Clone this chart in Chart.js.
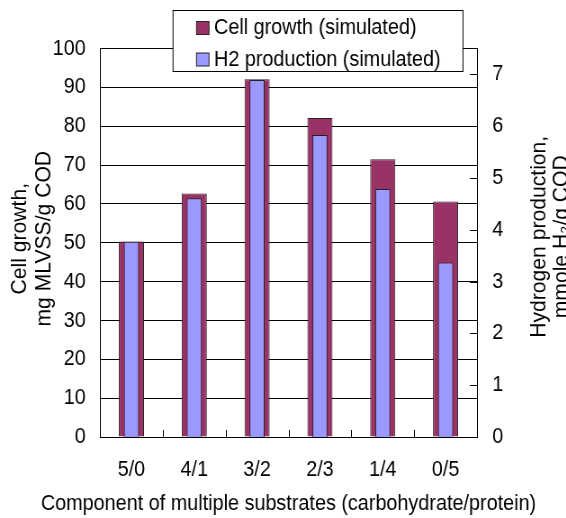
<!DOCTYPE html>
<html><head><meta charset="utf-8">
<script src="https://cdn.jsdelivr.net/npm/chart.js@4/dist/chart.umd.min.js"></script>
<style>
html,body{margin:0;padding:0;overflow:hidden;background:#fff;width:566px;height:518px}
#wrap{position:absolute;left:0;top:0;width:660px;height:518px;transform:scaleX(0.9);transform-origin:0 0}
</style></head><body>
<div id="wrap"><canvas id="c" width="660" height="518"></canvas></div>
<script>
// ---- data ----
const categories = ['5/0', '4/1', '3/2', '2/3', '1/4', '0/5'];
const cellGrowth = [50.3, 62.7, 92.1, 82.1, 71.5, 60.6];      // mg MLVSS/g COD (left axis)
const h2Production = [3.77, 4.61, 6.89, 5.83, 4.79, 3.37];    // mmole H2/g COD (right axis)
const seriesNames = ['Cell growth (simulated)', 'H2 production (simulated)'];
const leftTitle = ['Cell growth,', 'mg MLVSS/g COD'];
const rightTitle = ['Hydrogen production,', 'mmole H\u2082/g COD'];
const xTitle = 'Component of multiple substrates (carbohydrate/protein)';
const leftRange = [0, 100, 10];
const rightRange = [0, 7.5, 1];

// ---- look ----
const SX = 0.9;            // horizontal condensation of the page
const ROT = 0.96;          // condensation of rotated titles along their length
const FAM = '"Liberation Sans", Arial, "DejaVu Sans", sans-serif';
const FS = 22;
const sx = v => v / SX;    // screen px -> canvas px (x only)
const W = 660;

Chart.defaults.font.family = FAM;
Chart.defaults.font.size = FS;
Chart.defaults.color = '#000';

function rotatedText(ctx, text, baseX, centerY) {
  ctx.save();
  ctx.translate(sx(baseX), centerY);
  ctx.scale(1 / SX, 1);
  ctx.rotate(-Math.PI / 2);
  ctx.scale(ROT, 1);
  ctx.textAlign = 'center';
  ctx.textBaseline = 'alphabetic';
  ctx.fillText(text, 0, 0);
  ctx.restore();
}

const decor = {
  id: 'decor',
  afterDraw(chart) {
    const {ctx, chartArea: a, scales: {x, y1}} = chart;
    ctx.save();
    ctx.strokeStyle = '#000';
    ctx.lineWidth = 1;
    ctx.beginPath();
    for (let i = 1; i < categories.length; i++) {
      const px = Math.round((x.getPixelForValue(i - 1) + x.getPixelForValue(i)) / 2) + 0.5;
      ctx.moveTo(px, a.bottom);
      ctx.lineTo(px, a.bottom - 7);
    }
    y1.ticks.forEach(t => {
      if (t.value === 0) return;
      const py = Math.round(y1.getPixelForValue(t.value)) + 0.5;
      ctx.moveTo(a.right, py);
      ctx.lineTo(a.right - sx(7), py);
    });
    ctx.stroke();

    // legend
    const bx0 = sx(173), bx1 = sx(463), by0 = 10.5, by1 = 71.5;
    ctx.fillStyle = '#fff';
    ctx.fillRect(bx0, by0, bx1 - bx0, by1 - by0);
    ctx.strokeStyle = '#000';
    ctx.strokeRect(bx0, by0, bx1 - bx0, by1 - by0);
    const rows = [28, 59.5];
    ctx.font = FS + 'px ' + FAM;
    ctx.textBaseline = 'middle';
    ctx.textAlign = 'left';
    chart.data.datasets.forEach((ds, i) => {
      const cy = rows[i];
      ctx.fillStyle = ds.backgroundColor;
      ctx.fillRect(sx(196.5), cy - 6.5, sx(12.5), 13);
      ctx.strokeStyle = '#222';
      ctx.strokeRect(sx(196.5), cy - 6.5, sx(12.5), 13);
      ctx.fillStyle = '#000';
      ctx.fillText(ds.label, sx(214), cy);
    });

    // x axis title
    ctx.fillStyle = '#000';
    ctx.textAlign = 'center';
    ctx.textBaseline = 'middle';
    ctx.fillText(xTitle, (a.left + a.right) / 2, a.bottom + 67);

    // rotated axis titles
    const midY = (a.top + a.bottom) / 2;
    rotatedText(ctx, leftTitle[0], 26, midY - 4);
    rotatedText(ctx, leftTitle[1], 50, midY - 4);
    const rx = a.right * SX;
    rotatedText(ctx, rightTitle[0], rx + 68, midY - 6);
    rotatedText(ctx, rightTitle[1], rx + 91, midY - 6);
    ctx.restore();
  }
};

new Chart(document.getElementById('c'), {
  type: 'bar',
  data: {
    labels: categories,
    datasets: [
      {label: seriesNames[0], data: cellGrowth, yAxisID: 'y',
       backgroundColor: '#993366', borderColor: '#222', borderWidth: 1,
       barPercentage: 0.4, categoryPercentage: 1, grouped: false, order: 1},
      {label: seriesNames[1], data: h2Production, yAxisID: 'y1',
       backgroundColor: '#9999ff', borderColor: '#222', borderWidth: 1,
       barPercentage: 0.24, categoryPercentage: 1, grouped: false, order: 0}
    ]
  },
  options: {
    responsive: false,
    animation: false,
    devicePixelRatio: 1,
    layout: {padding: {top: 48.5, left: 0, right: 0, bottom: 0}},
    plugins: {legend: {display: false}, tooltip: {enabled: false}},
    scales: {
      x: {
        grid: {display: false, drawTicks: false},
        border: {display: true, color: '#000', width: 1},
        ticks: {padding: 20, color: '#000', font: {size: FS}},
        afterFit(s) { s.height = 81; }
      },
      y: {
        position: 'left',
        min: leftRange[0], max: leftRange[1],
        ticks: {stepSize: leftRange[2], padding: 16, color: '#000', font: {size: FS}},
        grid: {color: '#000', lineWidth: 1, drawTicks: false},
        border: {display: true, color: '#000', width: 1},
        afterFit(s) { s.width = sx(100); }
      },
      y1: {
        position: 'right',
        min: rightRange[0], max: rightRange[1],
        ticks: {stepSize: rightRange[2], includeBounds: false, padding: 17, color: '#000', font: {size: FS}},
        grid: {display: false, drawTicks: false},
        border: {display: true, color: '#000', width: 1},
        afterFit(s) { s.width = W - sx(477); }
      }
    }
  },
  plugins: [decor]
});
</script>
</body></html>
